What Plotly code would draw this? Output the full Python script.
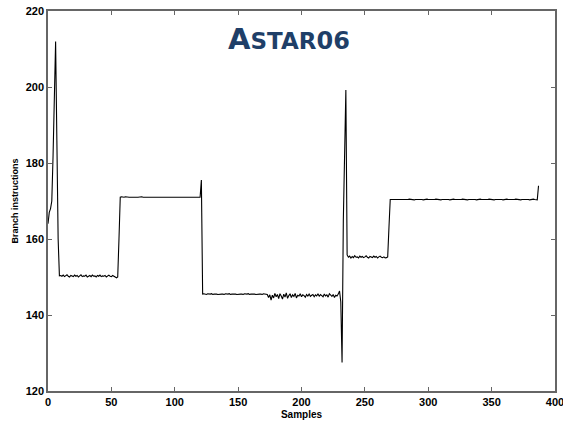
import plotly.graph_objects as go

# ---- data ----
seg_start = [164.0, 167.0, 168.0, 170.0, 182.0, 197.0, 212.0, 186.0, 160.0, 150.3]
seg_150 = [150.4, 150.2, 150.5, 150.1, 150.3, 150.6, 150.2, 150.0, 150.4, 150.3,
           150.1, 150.5, 150.2, 150.4, 150.0, 150.3, 150.6, 150.1, 150.3, 150.2,
           150.5, 150.0, 150.3, 150.4, 150.1, 150.5, 150.2, 150.3, 150.0, 150.4,
           150.2, 150.5, 150.1, 150.3, 150.2, 150.4, 150.0, 150.3, 150.5, 150.2,
           150.1, 150.4, 150.3, 150.0, 149.8, 150.0]
seg_rise1 = [160.0]
seg_171 = [171.0, 171.1, 171.0, 171.0, 171.1, 171.0, 171.1, 171.0, 171.0, 171.1,
           171.0, 171.0, 171.1, 171.0, 171.0, 171.1, 171.0, 171.1, 171.0, 171.0,
           171.1, 171.0, 171.0, 171.1, 171.0, 171.0, 171.1, 171.0, 171.1, 171.0,
           171.0, 171.1, 171.0, 171.0, 171.1, 171.0, 171.1, 171.0, 171.0, 171.1,
           171.0, 171.0, 171.1, 171.0, 171.0, 171.1, 171.0, 171.1, 171.0, 171.0,
           171.1, 171.0, 171.0, 171.1, 171.0, 171.0, 171.1, 171.0, 171.1, 171.0,
           171.0, 171.1, 171.0, 171.0]
seg_spike1 = [175.5]
seg_145a = [145.5, 145.6, 145.5, 145.4, 145.6, 145.5, 145.5, 145.6, 145.4, 145.5,
            145.6, 145.5, 145.4, 145.5, 145.6, 145.5, 145.5, 145.4, 145.6, 145.5,
            145.5, 145.6, 145.4, 145.5, 145.5, 145.6, 145.5, 145.4, 145.5, 145.6,
            145.5, 145.5, 145.4, 145.6, 145.5, 145.5, 145.6, 145.4, 145.5, 145.5,
            145.6, 145.5, 145.4, 145.5, 145.6, 145.5, 145.5, 145.4, 145.6, 145.5,
            145.5]
seg_145b = [145.4, 144.6, 145.3, 143.9, 145.2, 144.5, 145.7, 144.8, 145.4, 144.3,
            145.6, 145.0, 144.2, 145.5, 144.7, 145.8, 144.4, 145.1, 145.6, 144.6,
            145.3, 144.9, 145.7, 144.5, 145.2, 145.0, 145.6, 144.8, 145.3, 145.1,
            144.7, 145.4, 145.0, 145.5, 144.9, 145.2, 145.4, 144.8, 145.3, 145.0,
            145.6, 144.9, 145.4, 145.1, 144.8, 145.5, 145.0, 145.3, 144.7, 145.6,
            145.1, 144.9, 145.4, 144.6, 145.2, 145.0, 145.5]
seg_spike2 = [146.3, 143.5, 127.5, 165.0, 188.0, 199.2, 155.8]
seg_155 = [155.2, 155.5, 155.0, 155.4, 155.1, 155.6, 155.2, 155.3, 155.0, 155.5,
           155.2, 155.4, 155.1, 155.3, 155.6, 155.2, 155.0, 155.4, 155.3, 155.1,
           155.5, 155.2, 155.4, 155.0, 155.3, 155.5, 155.2, 155.1, 155.3, 155.0,
           155.1, 155.3]
seg_rise2 = [163.0]
seg_170 = [170.4, 170.4, 170.5, 170.4, 170.4, 170.3, 170.4, 170.4, 170.5, 170.4,
           170.4, 170.4, 170.3, 170.4, 170.4, 170.5, 170.4, 170.4, 170.4, 170.3,
           170.4, 170.4, 170.5, 170.4, 170.4, 170.4, 170.3, 170.4, 170.4, 170.5,
           170.4, 170.4, 170.4, 170.3, 170.4, 170.4, 170.5, 170.4, 170.4, 170.4,
           170.3, 170.4, 170.4, 170.5, 170.4, 170.4, 170.4, 170.3, 170.4, 170.4,
           170.5, 170.4, 170.4, 170.4, 170.3, 170.4, 170.4, 170.5, 170.4, 170.4,
           170.4, 170.3, 170.4, 170.4, 170.5, 170.4, 170.4, 170.4, 170.3, 170.4,
           170.4, 170.5, 170.4, 170.4, 170.4, 170.3, 170.4, 170.4, 170.5, 170.4,
           170.4, 170.4, 170.3, 170.4, 170.4, 170.5, 170.4, 170.4, 170.4, 170.3,
           170.4, 170.4, 170.5, 170.4, 170.4, 170.4, 170.3, 170.4, 170.4, 170.5,
           170.4, 170.4, 170.4, 170.3, 170.4, 170.4, 170.5, 170.4, 170.4, 170.4,
           170.3, 170.4, 170.4, 170.5, 170.4, 170.4, 170.3]
seg_end = [174.0]

branch_instructions = (seg_start + seg_150 + seg_rise1 + seg_171 + seg_spike1 +
                       seg_145a + seg_145b + seg_spike2 + seg_155 + seg_rise2 +
                       seg_170 + seg_end)
samples = list(range(len(branch_instructions)))

x_ticks = [0, 50, 100, 150, 200, 250, 300, 350, 400]
y_ticks = [120, 140, 160, 180, 200, 220]
title_text = "Astar06"

# ---- figure ----
fig = go.Figure()
fig.add_trace(go.Scatter(x=samples, y=branch_instructions, mode="lines",
                         line=dict(color="black", width=1.1), showlegend=False))

tick_font = dict(family="Liberation Sans, Arial, sans-serif", size=11, color="black", weight="bold")
axis_common = dict(showline=True, linecolor="#666666", linewidth=1.5, mirror="ticks",
                   ticks="inside", ticklen=4, tickcolor="#666666", tickwidth=1,
                   showgrid=False, zeroline=False, tickfont=tick_font, automargin=False,
                   ticklabeloverflow="allow")

fig.update_xaxes(range=[0, 400], tickvals=x_ticks,
                 title=dict(text="Samples", standoff=4,
                            font=dict(family="Liberation Sans, Arial, sans-serif", size=10,
                                      color="black", weight="bold")),
                 **axis_common)
fig.update_yaxes(range=[120, 220], tickvals=y_ticks,
                 title=dict(text="Branch instructions", standoff=6,
                            font=dict(family="Liberation Sans, Arial, sans-serif", size=9,
                                      color="black", weight="bold")),
                 **axis_common)

fig.add_annotation(
    x=(289 - 48.3) / (555.5 - 48.3), y=0.925, xref="paper", yref="paper", showarrow=False,
    xanchor="center", yanchor="middle",
    text="<span style='font-size:29px'>A</span><span style='font-size:23px'>STAR</span>"
         "<span style='font-size:24px'>06</span>",
    font=dict(family="DejaVu Sans, sans-serif", color="#1f3f68", size=24, weight="bold"),
)

fig.update_layout(width=563, height=423, margin=dict(l=48, r=8, t=11, b=32),
                  plot_bgcolor="white", paper_bgcolor="white")

fig.write_html("out.html")
